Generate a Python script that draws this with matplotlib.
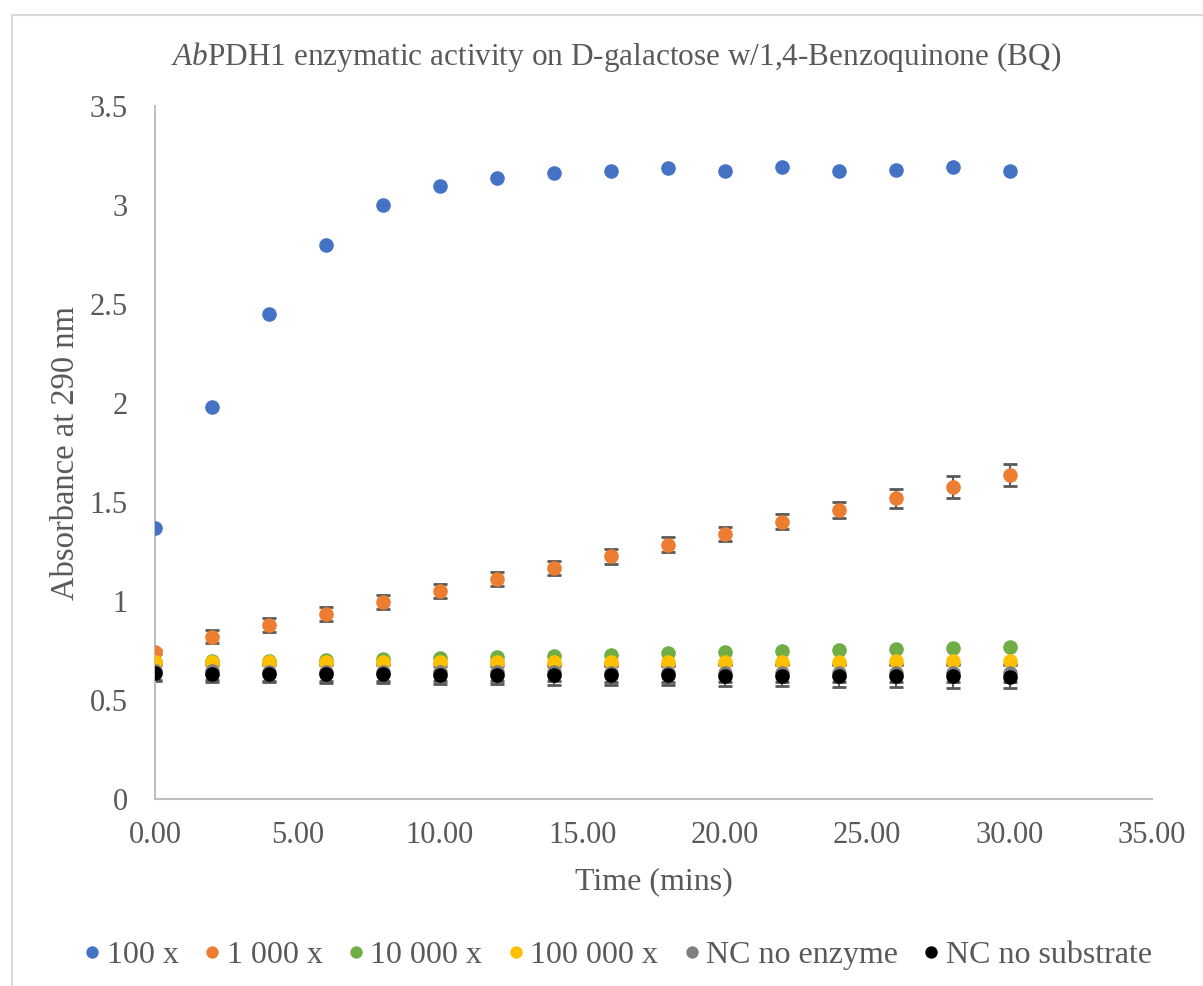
import matplotlib
matplotlib.use("Agg")
import matplotlib.pyplot as plt
from matplotlib.patches import Rectangle
from matplotlib.ticker import FuncFormatter

# data
times = [0, 2, 4, 6, 8, 10, 12, 14, 16, 18, 20, 22, 24, 26, 28, 30]
blue = [1.37, 1.98, 2.45, 2.80, 3.00, 3.095, 3.135, 3.16, 3.17, 3.185, 3.17, 3.19, 3.17, 3.175, 3.19, 3.17]
orange = [0.742, 0.82, 0.88, 0.935, 0.995, 1.05, 1.11, 1.165, 1.225, 1.285, 1.34, 1.40, 1.46, 1.52, 1.575, 1.635]
orange_err = [0.01, 0.033, 0.035, 0.035, 0.036, 0.037, 0.036, 0.035, 0.036, 0.036, 0.036, 0.038, 0.039, 0.048, 0.055, 0.055]
green = [0.69, 0.697, 0.697, 0.70, 0.705, 0.711, 0.717, 0.722, 0.728, 0.735, 0.741, 0.747, 0.751, 0.757, 0.763, 0.769]
yellow = [0.69, 0.69, 0.69, 0.69, 0.69, 0.69, 0.69, 0.691, 0.691, 0.692, 0.692, 0.693, 0.694, 0.695, 0.696, 0.697]
gray = [0.645, 0.644, 0.643, 0.642, 0.641, 0.640, 0.640, 0.639, 0.638, 0.637, 0.637, 0.636, 0.636, 0.635, 0.635, 0.635]
gray_err = [0.045] * 16
black = [0.635, 0.633, 0.632, 0.631, 0.630, 0.628, 0.627, 0.626, 0.625, 0.624, 0.623, 0.622, 0.620, 0.620, 0.619, 0.618]
black_err = [0.04, 0.042, 0.043, 0.044, 0.045, 0.046, 0.047, 0.048, 0.049, 0.050, 0.052, 0.053, 0.055, 0.056, 0.058, 0.059]

labels = ["100 x", "1 000 x", "10 000 x", "100 000 x", "NC no enzyme", "NC no substrate"]
colors = ["#4472C4", "#ED7D31", "#70AD47", "#FFC000", "#7F7F7F", "#000000"]

plt.rcParams['font.family'] = ['Liberation Serif', 'DejaVu Serif']
plt.rcParams['mathtext.fontset'] = 'custom'
plt.rcParams['mathtext.rm'] = 'Liberation Serif'
plt.rcParams['mathtext.it'] = 'Liberation Serif:italic'
txt = "#595959"

fig = plt.figure(figsize=(12.03, 9.86), dpi=100)
ax = fig.add_axes([155 / 1203, 1 - 799 / 986, 997 / 1203, 693 / 986])

series = [(blue, None), (orange, orange_err), (green, None), (yellow, None),
          (gray, gray_err), (black, black_err)]
for (vals, err), lab, c in zip(series, labels, colors):
    if err is not None:
        ax.errorbar(times, vals, yerr=err, fmt='none', ecolor="#595959",
                    elinewidth=1.5, capsize=5, capthick=2, zorder=2)
    ax.plot(times, vals, 'o', color=c, markersize=10.5, label=lab,
            markeredgewidth=0, zorder=3)

ax.set_xlim(0, 35)
ax.set_ylim(0, 3.5)
ax.set_xticks([0, 5, 10, 15, 20, 25, 30, 35])
ax.set_yticks([0, 0.5, 1, 1.5, 2, 2.5, 3, 3.5])
ax.xaxis.set_major_formatter(FuncFormatter(lambda v, p: f"{v:.2f}"))
ax.yaxis.set_major_formatter(FuncFormatter(lambda v, p: f"{v:g}"))
ax.tick_params(length=0, labelsize=22, colors=txt)
ax.tick_params(axis='y', pad=19.5)
ax.tick_params(axis='x', pad=16)
for s in ['top', 'right']:
    ax.spines[s].set_visible(False)
for s in ['left', 'bottom']:
    ax.spines[s].set_color("#BFBFBF")
    ax.spines[s].set_linewidth(1.5)

ax.set_xlabel("Time (mins)", fontsize=23, color=txt, labelpad=12)
ax.set_ylabel("Absorbance at 290 nm", fontsize=23.5, color=txt, labelpad=6)

fig.text(616 / 1203, 1 - 57 / 986,
         r"$\mathit{Ab}$PDH1 enzymatic activity on D-galactose w/1,4-Benzoquinone (BQ)",
         ha='center', va='center', fontsize=22.5, color=txt)

leg = fig.legend(loc='center', bbox_to_anchor=(615 / 1203, 1 - 955 / 986), ncol=6,
                 frameon=False, fontsize=23, handletextpad=0.0, columnspacing=0.6,
                 markerscale=0.85, handlelength=0.9)
for t in leg.get_texts():
    t.set_color(txt)

fig.add_artist(Rectangle((12 / 1203, -0.1), 1.2, 1 - 15 / 986 + 0.1,
                         transform=fig.transFigure, fill=False,
                         edgecolor="#D9D9D9", linewidth=1.5))

fig.savefig("out.png", dpi=100)
